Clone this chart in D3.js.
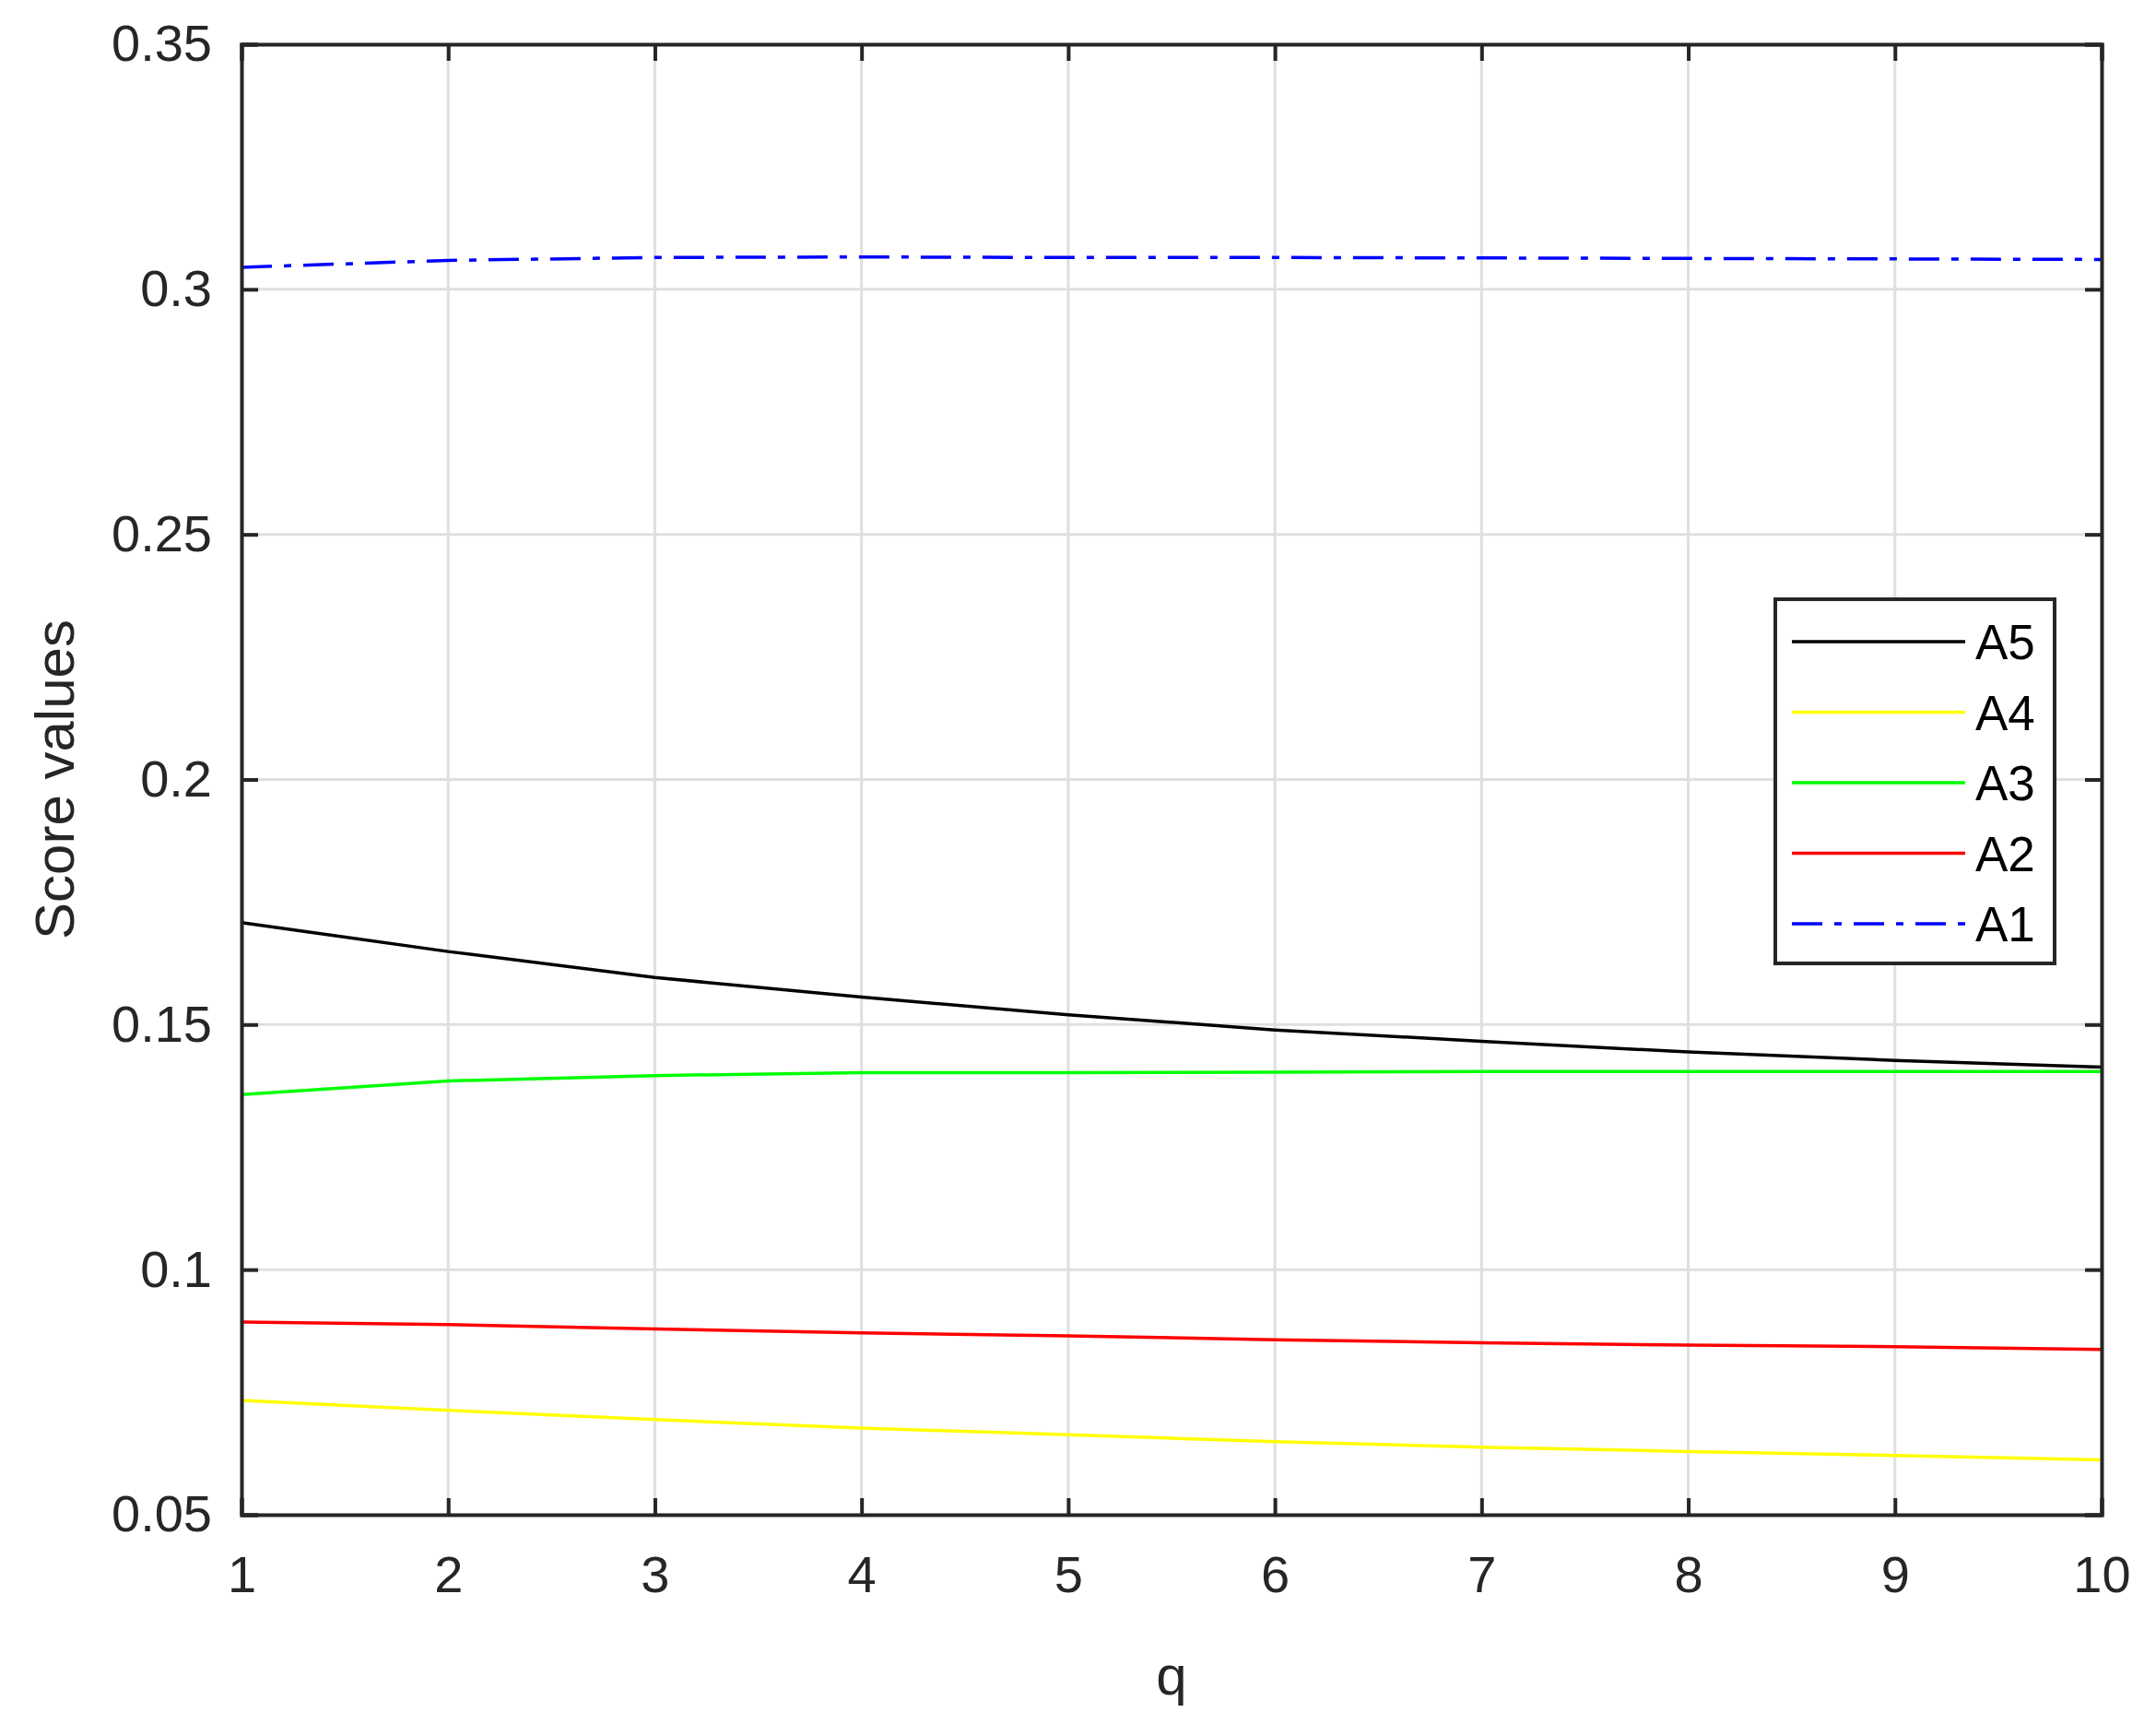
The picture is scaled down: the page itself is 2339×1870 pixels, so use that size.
<!DOCTYPE html><html><head><meta charset="utf-8"><script src="https://d3js.org/d3.v7.min.js"></script>
<style>body{margin:0;background:#fff}</style></head><body><svg id="c" width="2339" height="1870"></svg>
<script>
const qs=[1,2,3,4,5,6,7,8,9,10];
const A1=[0.3045,0.3059,0.3065,0.3066,0.3065,0.3065,0.3064,0.3063,0.3062,0.3061];
const A2=[0.0893,0.0888,0.0879,0.0871,0.0865,0.0857,0.0851,0.0846,0.0843,0.0837];
const A3=[0.1357,0.1385,0.1396,0.1402,0.1402,0.1403,0.1404,0.1404,0.1404,0.1404];
const A4=[0.0733,0.0713,0.0694,0.0677,0.0663,0.0649,0.0638,0.0629,0.0621,0.0612];
const A5=[0.1708,0.1649,0.1596,0.1556,0.1520,0.1489,0.1466,0.1444,0.1427,0.1413];
const yTicks=[0.05,0.1,0.15,0.2,0.25,0.3,0.35];
const yLabels=["0.05","0.1","0.15","0.2","0.25","0.3","0.35"];
const series=[{n:"A5",v:A5,c:"#000"},{n:"A4",v:A4,c:"#ffff00"},{n:"A3",v:A3,c:"#00ff00"},{n:"A2",v:A2,c:"#ff0000"},{n:"A1",v:A1,c:"#0000ff",d:"33 13 8 13"}];
const L=262,R=2280,T=48,B=1643;
const svg=d3.select("#c");
const x=d3.scaleLinear().domain([1,10]).range([L,R]);
const y=d3.scaleLinear().domain([0.05,0.35]).range([B,T]);
const g=svg.append("g");
g.selectAll(".gx").data(qs).join("line").attr("x1",d=>x(d)).attr("x2",d=>x(d)).attr("y1",T).attr("y2",B).attr("stroke","#dfdfdf").attr("stroke-width",3);
g.selectAll(".gy").data(yTicks).join("line").attr("y1",d=>y(d)).attr("y2",d=>y(d)).attr("x1",L).attr("x2",R).attr("stroke","#dfdfdf").attr("stroke-width",3);
const line=d3.line().x((d,i)=>x(qs[i])).y(d=>y(d));
series.forEach(s=>svg.append("path").attr("d",line(s.v)).attr("fill","none").attr("stroke",s.c).attr("stroke-width",3.5).attr("stroke-dasharray",s.d||null));
const ax=(sel)=>sel.selectAll("text").attr("font-family","Liberation Sans, Arial").attr("font-size",56).attr("fill","#262626");
svg.append("g").attr("transform",`translate(0,${B})`).call(d3.axisBottom(x).tickValues(qs).tickSize(-18).tickPadding(44).tickFormat(d3.format("d"))).call(ax);
svg.append("g").attr("transform",`translate(0,${T})`).call(d3.axisTop(x).tickValues(qs).tickSize(-18).tickFormat(""));
svg.append("g").attr("transform",`translate(${L},0)`).call(d3.axisLeft(y).tickValues(yTicks).tickSize(-18).tickPadding(32).tickFormat((d,i)=>yLabels[i])).call(ax);
svg.append("g").attr("transform",`translate(${R},0)`).call(d3.axisRight(y).tickValues(yTicks).tickSize(-18).tickFormat(""));
svg.selectAll(".domain,.tick line").attr("stroke","#262626").attr("stroke-width",4);
svg.append("text").attr("x",(L+R)/2).attr("y",1838).attr("text-anchor","middle").attr("font-family","Liberation Sans, Arial").attr("font-size",60).attr("fill","#262626").text("q");
svg.append("text").attr("transform",`translate(80,${(T+B)/2}) rotate(-90)`).attr("text-anchor","middle").attr("font-family","Liberation Sans, Arial").attr("font-size",60).attr("fill","#262626").text("Score values");
const lg=svg.append("g");
lg.append("rect").attr("x",1926).attr("y",650).attr("width",303).attr("height",395).attr("fill","#fff").attr("stroke","#262626").attr("stroke-width",4);
series.forEach((s,i)=>{const yy=696+i*76.5;
lg.append("line").attr("x1",1944).attr("x2",2132).attr("y1",yy).attr("y2",yy).attr("stroke",s.c).attr("stroke-width",3.5).attr("stroke-dasharray",s.d||null);
lg.append("text").attr("x",2143).attr("y",yy+19).attr("font-family","Liberation Sans, Arial").attr("font-size",53).attr("fill","#000").text(s.n);});
</script></body></html>
